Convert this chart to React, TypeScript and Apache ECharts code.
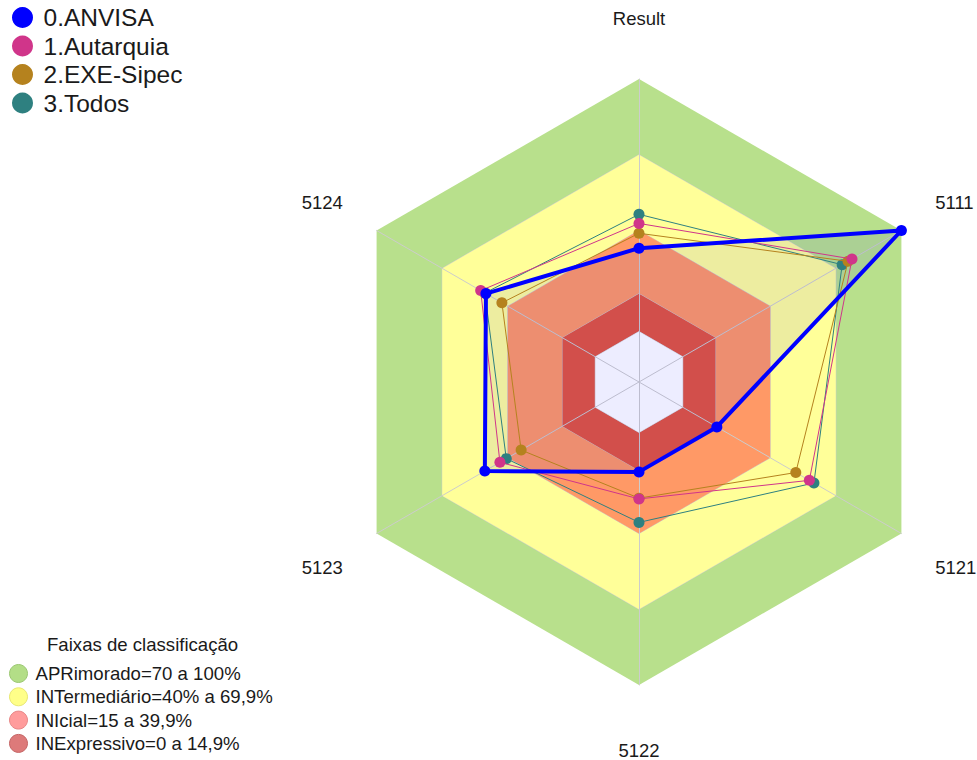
import React, { useEffect, useRef } from "react";
import * as echarts from "echarts";

// Radar axes, counter-clockwise from the top
const indicators = ["Result", "5124", "5123", "5122", "5121", "5111"];

// Series values (same order as indicators)
const seriesNames = ["0.ANVISA", "1.Autarquia", "2.EXE-Sipec", "3.Todos"];
const anvisa = [33, 50, 50.5, 15.6, 15.6, 100];
const autarquia = [42.8, 52.4, 43.6, 26.3, 57.9, 77.4];
const exeSipec = [38.9, 42.7, 33.9, 26, 51.7, 75.6];
const todos = [46.4, 50.5, 40.7, 35.6, 60, 72.9];

// Classification bands (upper limit of each band)
const bandNames = [
  "APRimorado=70 a 100%",
  "INTermediário=40% a 69,9%",
  "INIcial=15 a 39,9%",
  "INExpressivo=0 a 14,9%",
];
const bandLimits = [100, 70, 40, 15, 0];

const axisMin = -20;
const axisMax = 100;

const FONT = "'Liberation Sans', Arial, sans-serif";

export default function App() {
  const ref = useRef<HTMLDivElement>(null);

  useEffect(() => {
    if (!ref.current) return;
    const chart = echarts.init(ref.current, null, { renderer: "svg" });

    const bandFill = ["#B8E08C", "#FFFF99", "#FF9966", "#E2553E", "#FFFFFF"];
    const bandLegendColor = ["#B3DE87", "#FFFF88", "#FF9C9C", "#DD7A7A"];
    const bandLegendBorder = ["#9CC873", "#E8E870", "#E88888", "#C56666"];

    const bandSeries = bandLimits.map((lim, i) => ({
      type: "radar",
      name: i < bandNames.length ? bandNames[i] : "base",
      z: 1 + i,
      silent: true,
      symbol: "none",
      itemStyle: { color: bandFill[i] },
      lineStyle: { color: "#CCCCCC", width: 1, opacity: i === 0 ? 0 : 1 },
      areaStyle: { color: bandFill[i], opacity: 1 },
      emphasis: { disabled: true },
      data: [{ value: indicators.map(() => lim) }],
    }));

    const dataSeries = (
      name: string,
      values: number[],
      color: string,
      width: number,
      z: number
    ) => ({
      type: "radar",
      name,
      z,
      symbol: "circle",
      symbolSize: 11,
      itemStyle: { color },
      lineStyle: { color, width },
      emphasis: { disabled: true },
      data: [{ value: values }],
    });

    const richKey: Record<string, string> = {
      Result: "top",
      "5122": "bot",
      "5111": "up",
      "5124": "up",
      "5121": "dn",
      "5123": "dn",
    };
    const nameBase = { fontSize: 18.5, color: "#1a1a1a", fontFamily: FONT };

    chart.setOption({
      animation: false,
      title: {
        text: "Faixas de classificação",
        left: 47,
        top: 635,
        padding: 0,
        textStyle: {
          fontSize: 18.6,
          fontWeight: "normal",
          color: "#1a1a1a",
          fontFamily: FONT,
        },
      },
      legend: [
        {
          data: seriesNames,
          orient: "vertical",
          left: 12,
          top: 5,
          padding: 0,
          icon: "circle",
          itemWidth: 32,
          itemHeight: 21,
          itemGap: 3.5,
          selectedMode: false,
          itemStyle: { borderWidth: 0 },
          textStyle: { fontSize: 24.5, color: "#1a1a1a", fontFamily: FONT },
        },
        {
          data: bandNames.map((n, i) => ({
            name: n,
            itemStyle: {
              color: bandLegendColor[i],
              borderColor: bandLegendBorder[i],
              borderWidth: 1,
            },
          })),
          orient: "vertical",
          left: 9,
          top: 664,
          padding: 0,
          icon: "circle",
          itemWidth: 24,
          itemHeight: 18,
          itemGap: 4.3,
          selectedMode: false,
          textStyle: { fontSize: 18.6, color: "#1a1a1a", fontFamily: FONT },
        },
      ],
      radar: {
        center: [639, 382],
        radius: 303,
        shape: "polygon",
        startAngle: 90,
        z: 6,
        axisNameGap: 39,
        indicator: indicators.map((n) => ({ name: n, min: axisMin, max: axisMax })),
        axisName: {
          ...nameBase,
          formatter: (name: string) => `{${richKey[name] || "up"}|${name}}`,
          rich: {
            top: { ...nameBase, padding: [0, 0, 12, 0] },
            bot: { ...nameBase, padding: [17, 0, 0, 0] },
            up: { ...nameBase, padding: [0, 0, 18, 0] },
            dn: { ...nameBase, padding: [28, 0, 0, 0] },
          },
        },
        axisLine: { lineStyle: { color: "#CCCCCC", width: 1 } },
        splitLine: { show: false },
        splitArea: { show: false },
        axisTick: { show: false },
        axisLabel: { show: false },
      },
      series: [
        ...bandSeries,
        {
          type: "radar",
          name: "ANVISA-area",
          z: 7,
          silent: true,
          symbol: "none",
          lineStyle: { width: 0, opacity: 0 },
          itemStyle: { color: "#0000FF" },
          areaStyle: { color: "rgba(0,0,255,0.1)" },
          emphasis: { disabled: true },
          data: [{ value: anvisa }],
        },
        dataSeries(seriesNames[3], todos, "#2E8080", 1, 8),
        dataSeries(seriesNames[2], exeSipec, "#B5821E", 1, 9),
        dataSeries(seriesNames[1], autarquia, "#D0358A", 1, 10),
        dataSeries(seriesNames[0], anvisa, "#0000FF", 4, 11),
      ],
    });

    return () => chart.dispose();
  }, []);

  return (
    <div
      ref={ref}
      style={{ position: "fixed", left: 0, top: 0, width: 977, height: 760, background: "#fff" }}
    />
  );
}
